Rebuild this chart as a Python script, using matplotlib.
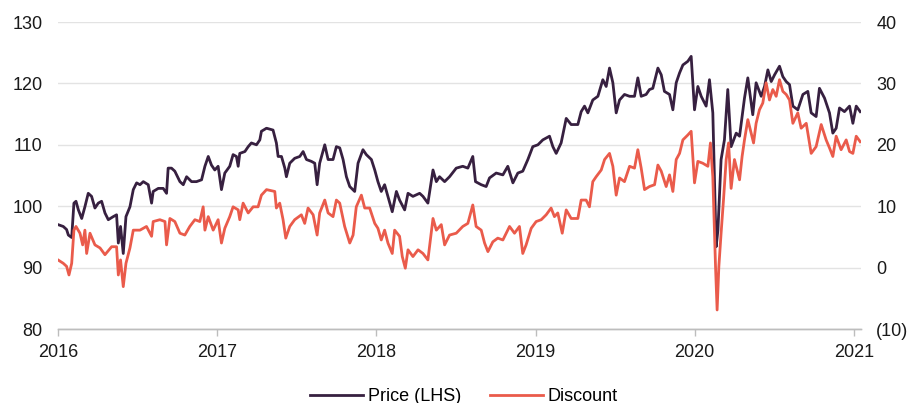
import matplotlib
matplotlib.use("Agg")
import matplotlib.pyplot as plt
from matplotlib.ticker import FuncFormatter

# ---- data (decimal year, value) ----
price_t = [2016.000, 2016.033, 2016.054, 2016.065, 2016.086, 2016.100, 2016.113, 2016.128, 2016.149, 2016.169,
           2016.190, 2016.211, 2016.232, 2016.253, 2016.274, 2016.295, 2016.316, 2016.347, 2016.368, 2016.379,
           2016.393, 2016.410, 2016.427, 2016.452, 2016.473, 2016.494, 2016.515, 2016.536, 2016.567, 2016.588,
           2016.598, 2016.630, 2016.661, 2016.682, 2016.692, 2016.713, 2016.734, 2016.766, 2016.787, 2016.808,
           2016.839, 2016.870, 2016.902, 2016.923, 2016.944, 2016.964, 2016.985, 2017.006, 2017.027, 2017.048,
           2017.079, 2017.100, 2017.121, 2017.132, 2017.142, 2017.174, 2017.195, 2017.215, 2017.247, 2017.268,
           2017.278, 2017.310, 2017.351, 2017.372, 2017.383, 2017.404, 2017.425, 2017.435, 2017.456, 2017.487,
           2017.519, 2017.540, 2017.561, 2017.592, 2017.613, 2017.628, 2017.644, 2017.676, 2017.697, 2017.728,
           2017.749, 2017.770, 2017.791, 2017.812, 2017.833, 2017.864, 2017.885, 2017.916, 2017.937, 2017.969,
           2017.990, 2018.010, 2018.031, 2018.052, 2018.073, 2018.100, 2018.126, 2018.146, 2018.178, 2018.199,
           2018.230, 2018.272, 2018.293, 2018.324, 2018.356, 2018.377, 2018.397, 2018.429, 2018.460,
           2018.502, 2018.543, 2018.575, 2018.606, 2018.623, 2018.659, 2018.690, 2018.711, 2018.753, 2018.795,
           2018.826, 2018.858, 2018.889, 2018.920, 2018.952, 2018.983, 2019.015, 2019.046, 2019.088, 2019.109,
           2019.130, 2019.161, 2019.193, 2019.224, 2019.266, 2019.287, 2019.308, 2019.329, 2019.360, 2019.392,
           2019.423, 2019.444, 2019.465, 2019.486, 2019.507, 2019.528, 2019.559, 2019.591, 2019.622, 2019.643,
           2019.664, 2019.695, 2019.716, 2019.737, 2019.769, 2019.790, 2019.810, 2019.842, 2019.863, 2019.884,
           2019.905, 2019.926, 2019.957, 2019.978, 2019.999, 2020.020, 2020.041, 2020.072, 2020.093, 2020.114,
           2020.135, 2020.146, 2020.166, 2020.187, 2020.208, 2020.229, 2020.261, 2020.282, 2020.313, 2020.334,
           2020.365, 2020.386, 2020.418, 2020.439, 2020.460, 2020.481, 2020.502, 2020.533, 2020.554, 2020.575,
           2020.596, 2020.617, 2020.648, 2020.680, 2020.711, 2020.732, 2020.763, 2020.784, 2020.816, 2020.847,
           2020.868, 2020.889, 2020.910, 2020.941, 2020.973, 2020.994, 2021.015, 2021.040]
price_v = [97.0, 96.7, 96.2, 95.3, 94.9, 100.5, 100.8, 99.4, 98.0, 99.9,
           102.1, 101.6, 99.7, 100.5, 100.8, 98.9, 97.8, 98.3, 98.6, 94.0,
           96.7, 92.3, 98.3, 99.9, 102.7, 103.8, 103.5, 104.0, 103.5, 100.5,
           102.4, 102.9, 102.9, 102.1, 106.2, 106.2, 105.7, 104.0, 103.5, 104.8,
           104.0, 104.0, 104.3, 106.5, 108.1, 106.7, 105.9, 106.5, 102.7, 105.4,
           106.5, 108.4, 108.1, 106.5, 108.6, 108.9, 109.7, 110.3, 110.0, 110.8,
           112.2, 112.7, 112.4, 110.3, 108.1, 108.1, 106.2, 104.8, 107.0, 107.8,
           108.1, 108.9, 107.6, 107.3, 107.0, 103.5, 107.0, 110.0, 107.6, 107.6,
           109.7, 109.5, 107.6, 104.8, 103.2, 102.4, 107.0, 109.2, 108.4, 107.6,
           105.9, 104.0, 102.4, 103.5, 101.6, 99.1, 102.4, 101.0, 99.4, 102.1,
           101.6, 102.1, 101.6, 100.5, 105.9, 104.0, 104.8, 104.0, 104.8,
           106.2, 106.5, 106.2, 108.1, 104.0, 103.5, 103.2, 104.6, 105.4, 105.1,
           106.5, 103.8, 105.4, 105.7, 107.6, 109.7, 110.0, 110.8, 111.4, 109.7,
           108.6, 110.3, 114.3, 113.3, 113.3, 115.4, 116.3, 115.2, 117.3, 117.9,
           120.6, 119.5, 122.5, 120.1, 115.2, 117.3, 118.2, 117.9, 117.9, 120.9,
           117.9, 118.2, 119.0, 119.2, 122.5, 121.4, 118.7, 118.2, 115.7, 120.1,
           121.7, 123.0, 123.6, 124.4, 115.7, 119.5, 117.9, 116.3, 120.6, 115.2,
           93.4, 96.1, 107.6, 110.8, 119.0, 109.7, 111.9, 111.4, 117.6, 120.9,
           114.9, 120.1, 117.9, 119.5, 122.2, 120.3, 121.4, 122.8, 121.1, 120.3,
           119.8, 116.3, 115.7, 118.2, 118.7, 115.2, 114.6, 119.2, 117.6, 115.2,
           111.9, 112.7, 116.0, 115.4, 116.3, 113.5, 116.3, 115.4]

disc_t = [2016.000, 2016.033, 2016.054, 2016.069, 2016.086, 2016.100, 2016.113, 2016.138, 2016.155, 2016.169,
          2016.180, 2016.201, 2016.232, 2016.264, 2016.295, 2016.337, 2016.368, 2016.379, 2016.393, 2016.410,
          2016.427, 2016.452, 2016.473, 2016.515, 2016.556, 2016.588, 2016.598, 2016.640, 2016.672, 2016.682,
          2016.703, 2016.734, 2016.766, 2016.797, 2016.828, 2016.860, 2016.891, 2016.912, 2016.923, 2016.944,
          2016.975, 2017.006, 2017.027, 2017.048, 2017.079, 2017.100, 2017.132, 2017.142, 2017.163, 2017.195,
          2017.226, 2017.257, 2017.278, 2017.310, 2017.362, 2017.372, 2017.393, 2017.414, 2017.431, 2017.456,
          2017.487, 2017.529, 2017.550, 2017.571, 2017.603, 2017.628, 2017.644, 2017.676, 2017.697, 2017.728,
          2017.749, 2017.770, 2017.801, 2017.833, 2017.854, 2017.874, 2017.906, 2017.927, 2017.958, 2017.990,
          2018.010, 2018.031, 2018.052, 2018.073, 2018.100, 2018.115, 2018.146, 2018.163, 2018.182, 2018.199,
          2018.230, 2018.262, 2018.293, 2018.324, 2018.356, 2018.377, 2018.408, 2018.429, 2018.460,
          2018.502, 2018.543, 2018.575, 2018.606, 2018.627, 2018.659, 2018.680, 2018.701, 2018.732, 2018.763,
          2018.795, 2018.837, 2018.868, 2018.899, 2018.920, 2018.941, 2018.973, 2019.004, 2019.036, 2019.067,
          2019.098, 2019.119, 2019.140, 2019.168, 2019.193, 2019.224, 2019.266, 2019.287, 2019.318, 2019.339,
          2019.360, 2019.381, 2019.413, 2019.434, 2019.465, 2019.486, 2019.507, 2019.528, 2019.559, 2019.591,
          2019.622, 2019.643, 2019.664, 2019.685, 2019.716, 2019.748, 2019.769, 2019.790, 2019.821, 2019.842,
          2019.863, 2019.884, 2019.905, 2019.926, 2019.957, 2019.978, 2019.999, 2020.020, 2020.051, 2020.083,
          2020.099, 2020.114, 2020.131, 2020.141, 2020.152, 2020.166, 2020.181, 2020.198, 2020.213, 2020.229,
          2020.250, 2020.282, 2020.298, 2020.313, 2020.334, 2020.355, 2020.370, 2020.386, 2020.407, 2020.428,
          2020.449, 2020.470, 2020.491, 2020.512, 2020.533, 2020.554, 2020.575, 2020.596, 2020.617, 2020.648,
          2020.669, 2020.701, 2020.732, 2020.763, 2020.795, 2020.826, 2020.847, 2020.868, 2020.889, 2020.920,
          2020.952, 2020.973, 2020.994, 2021.015, 2021.040]
disc_v = [1.25, 0.7, 0.2, -1.2, 0.7, 6.1, 6.7, 5.6, 3.7, 6.1,
          2.3, 5.6, 3.7, 3.2, 2.1, 3.4, 3.4, -1.2, 1.25, -3.1,
          0.7, 3.2, 6.1, 6.1, 6.7, 5.1, 7.5, 7.8, 7.5, 3.7,
          8.0, 7.5, 5.6, 5.3, 6.7, 7.8, 7.5, 9.9, 6.1, 8.3,
          6.1, 7.8, 4.0, 6.4, 8.3, 9.9, 9.4, 7.8, 10.5, 8.9,
          9.9, 9.9, 11.8, 12.7, 12.4, 9.7, 10.5, 7.8, 4.8, 6.7,
          7.8, 8.6, 7.2, 9.7, 8.6, 5.3, 8.9, 11.0, 8.9, 8.3,
          11.0, 10.5, 6.7, 4.0, 5.3, 9.9, 11.8, 9.7, 9.7, 7.2,
          6.4, 4.5, 6.1, 4.0, 2.3, 6.1, 5.1, 1.8, -0.1, 2.9,
          1.8, 2.9, 2.3, 1.25, 8.0, 6.1, 7.0, 3.7, 5.3,
          5.6, 6.7, 7.2, 10.2, 6.7, 6.1, 4.0, 2.6, 4.2, 4.8,
          4.5, 6.7, 5.6, 6.7, 2.3, 3.7, 6.4, 7.5, 7.8, 8.6,
          9.7, 8.3, 8.9, 5.6, 9.4, 8.0, 8.0, 11.0, 11.0, 9.9,
          14.0, 14.8, 15.9, 17.6, 18.6, 16.5, 11.8, 14.6, 14.0, 16.5,
          16.2, 19.2, 16.2, 12.7, 13.2, 13.5, 16.7, 15.7, 13.2, 15.1,
          12.4, 17.6, 18.6, 20.8, 21.6, 22.2, 13.8, 17.3, 17.0, 16.5,
          20.3, 14.8, 0.2, -6.9, 0.2, 5.6, 11.0, 17.6, 20.3, 12.9,
          17.6, 14.3, 18.1, 20.8, 24.1, 21.9, 20.3, 23.5, 25.7, 26.8,
          30.1, 27.3, 29.0, 27.9, 30.6, 28.7, 28.2, 27.3, 23.5, 25.2,
          22.7, 23.5, 18.6, 19.7, 23.3, 20.8, 19.5, 18.1, 21.4, 19.2,
          20.8, 18.9, 18.6, 21.4, 20.5]

years = [2016, 2017, 2018, 2019, 2020, 2021]
left_ticks = [80, 90, 100, 110, 120, 130]
right_ticks = [-10, 0, 10, 20, 30, 40]

PURPLE = "#372040"
RED = "#ea5b4b"
GRID = "#e3e3e3"

plt.rcParams['font.family'] = ['Liberation Sans', 'DejaVu Sans']

fig = plt.figure(figsize=(9.12, 4.03), dpi=100)
ax = fig.add_axes([58/912, 74/403, (861-58)/912, (329-22)/403])
ax2 = ax.twinx()

lp, = ax.plot(price_t, price_v, color=PURPLE, lw=2.0, label="Price (LHS)", solid_joinstyle='round')
ld, = ax2.plot(disc_t, disc_v, color=RED, lw=2.0, label="Discount", solid_joinstyle='round')

ax.set_xlim(2016.0, 2021.045)
ax.set_ylim(80, 130)
ax2.set_ylim(-10, 40)
ax.set_yticks(left_ticks)
ax2.set_yticks(right_ticks)
ax.set_xticks(years)
ax.set_xticklabels([str(y) for y in years])
ax2.yaxis.set_major_formatter(FuncFormatter(lambda v, p: f"({abs(int(v))})" if v < 0 else f"{int(v)}"))

ax.grid(axis='y', color=GRID, lw=1.0)
ax.set_axisbelow(True)
for a in (ax, ax2):
    for s in ('top', 'left', 'right'):
        a.spines[s].set_visible(False)
    a.spines['bottom'].set_color('#bdbdbd')
    a.spines['bottom'].set_linewidth(1.0)

ax.tick_params(axis='y', length=0, pad=11, labelsize=13, labelcolor='#1a1a1a')
ax2.tick_params(axis='y', length=0, pad=11, labelsize=13, labelcolor='#1a1a1a')
ax.tick_params(axis='x', length=5, width=1, color='#bdbdbd', pad=6, labelsize=13, labelcolor='#1a1a1a')

fig.legend(handles=[lp, ld], loc='center', bbox_to_anchor=(0.509, 0.015), ncol=2, frameon=False,
           fontsize=13, handlelength=2.9, handletextpad=0.3, columnspacing=1.6)

fig.savefig("out.png", dpi=100)
